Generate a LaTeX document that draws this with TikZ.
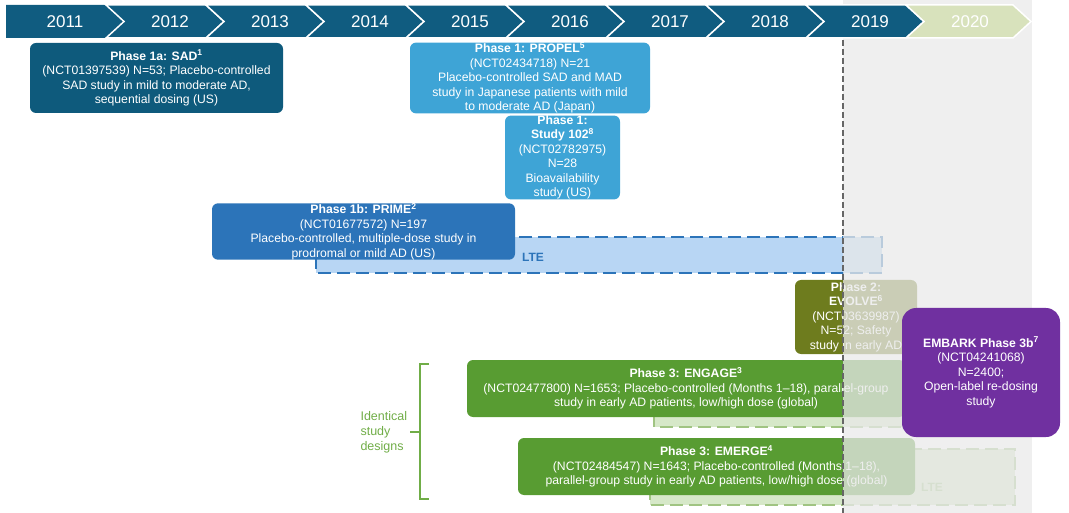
\documentclass[tikz,border=0pt]{standalone}
\usepackage{fontspec}
\setmainfont{Liberation Sans}
\definecolor{hdrblue}{RGB}{16,92,128}
\definecolor{hdrlime}{RGB}{216,226,188}
\definecolor{sadblue}{RGB}{14,90,124}
\definecolor{skyblue}{RGB}{62,164,214}
\definecolor{primeblue}{RGB}{44,116,185}
\definecolor{ltblue}{RGB}{184,214,244}
\definecolor{olive}{RGB}{110,124,30}
\definecolor{purple}{RGB}{112,48,160}
\definecolor{leafgreen}{RGB}{88,156,50}
\definecolor{ltgreen}{RGB}{214,232,200}
\definecolor{dashgreen}{RGB}{160,196,130}
\definecolor{bracegreen}{RGB}{112,173,71}
\begin{document}
\begin{tikzpicture}[x=1pt,y=-1pt,
    study/.style={rounded corners=6pt, inner sep=0pt, text=white, align=center,
      font=\fontsize{12.2}{14.5}\selectfont},
    ltebox/.style={dash pattern=on 13pt off 6pt, line width=2.4pt},
    yearlbl/.style={text=white, font=\fontsize{17}{20}\selectfont}]
  \useasboundingbox (0,0) rectangle (1069,513);

  % long-term extensions
  \filldraw[ltebox, fill=ltblue, draw=primeblue] (316,237) rectangle (882,273);
  \node[font=\bfseries\fontsize{12}{14}\selectfont, text=primeblue] (lteprime) at (533,257) {LTE};
  \filldraw[ltebox, fill=ltgreen, draw=dashgreen] (654,395) rectangle (1015,427);
  \filldraw[ltebox, fill=ltgreen, draw=dashgreen] (650,449) rectangle (1015,505);
  \node[font=\bfseries\fontsize{12}{14}\selectfont, text=dashgreen] (lteemerge) at (932,487) {LTE};

  % studies
  \node[study, fill=sadblue, minimum width=253, minimum height=70] (sad) at (156.5,78)
    {\textbf{Phase 1a: SAD\textsuperscript{1}}\\(NCT01397539) N=53; Placebo-controlled\\SAD study in mild to moderate AD,\\sequential dosing (US)};
  \node[study, fill=skyblue, minimum width=240, minimum height=70] (propel) at (530,78)
    {\textbf{Phase 1: PROPEL\textsuperscript{5}}\\(NCT02434718) N=21\\Placebo-controlled SAD and MAD\\study in Japanese patients with mild\\to moderate AD (Japan)};
  \node[study, fill=skyblue, minimum width=115, minimum height=81] (study102) at (562.5,157.5)
    {\textbf{Phase 1:}\\\textbf{Study 102\textsuperscript{8}}\\(NCT02782975)\\N=28\\Bioavailability\\study (US)};
  \node[study, fill=primeblue, minimum width=303, minimum height=55] (prime) at (363.5,231.5)
    {\textbf{Phase 1b: PRIME\textsuperscript{2}}\\(NCT01677572) N=197\\Placebo-controlled, multiple-dose study in\\prodromal or mild AD (US)};
  \node[study, fill=olive, minimum width=122, minimum height=74] (evolve) at (856,317)
    {\textbf{Phase 2:}\\\textbf{EVOLVE\textsuperscript{6}}\\(NCT03639987)\\N=52; Safety\\study in early AD};
  \node[study, fill=leafgreen, minimum width=438, minimum height=57] (engage) at (686,388.5)
    {\textbf{Phase 3: ENGAGE\textsuperscript{3}}\\(NCT02477800) N=1653; Placebo-controlled (Months 1--18), parallel-group\\study in early AD patients, low/high dose (global)};
  \node[study, fill=leafgreen, minimum width=397, minimum height=57] (emerge) at (716.5,466.5)
    {\textbf{Phase 3: EMERGE\textsuperscript{4}}\\(NCT02484547) N=1643; Placebo-controlled (Months 1--18),\\parallel-group study in early AD patients, low/high dose (global)};

  % future period
  \fill[gray!17, opacity=0.75] (843,0) rectangle (1032,513);
  \draw[gray!80!black, line width=1.5pt, dash pattern=on 6pt off 3pt] (843,40) -- (843,513);

  \node[study, fill=purple, rounded corners=14pt, minimum width=158, minimum height=129] (embark) at (981,372.5)
    {\textbf{EMBARK Phase 3b\textsuperscript{7}}\\(NCT04241068)\\N=2400;\\Open-label re-dosing\\study};

  % timeline
  \fill[hdrblue] (6,5) -- (106,5) -- (124,21.5) -- (106,38) -- (6,38) -- cycle;
  \foreach \k in {1,...,8}
    \filldraw[hdrblue, draw=white, line width=1.5pt] ({6+100*\k},5) -- ({106+100*\k},5) -- ({124+100*\k},21.5)
      -- ({106+100*\k},38) -- ({6+100*\k},38) -- ({24+100*\k},21.5) -- cycle;
  \filldraw[hdrlime, draw=white, line width=1.5pt] (906,5) -- (1013,5) -- (1031,21.5) -- (1013,38) -- (906,38) -- (924,21.5) -- cycle;
  \node[yearlbl] (y2011) at (65,21.5) {2011};
  \foreach \yr [count=\k] in {2012,...,2020}
    \node[yearlbl] (y\yr) at ({70+100*\k},21.5) {\yr};

  % identical designs
  \node[anchor=west, align=left, text=bracegreen, font=\fontsize{12.5}{15}\selectfont] (ident) at (357,432)
    {Identical\\study\\designs};
  \draw[bracegreen, line width=2pt] (429,364) -- (420,364) -- (420,499) -- (429,499);
  \draw[bracegreen, line width=2pt] (420,432) -- (410,432);
\end{tikzpicture}
\end{document}
